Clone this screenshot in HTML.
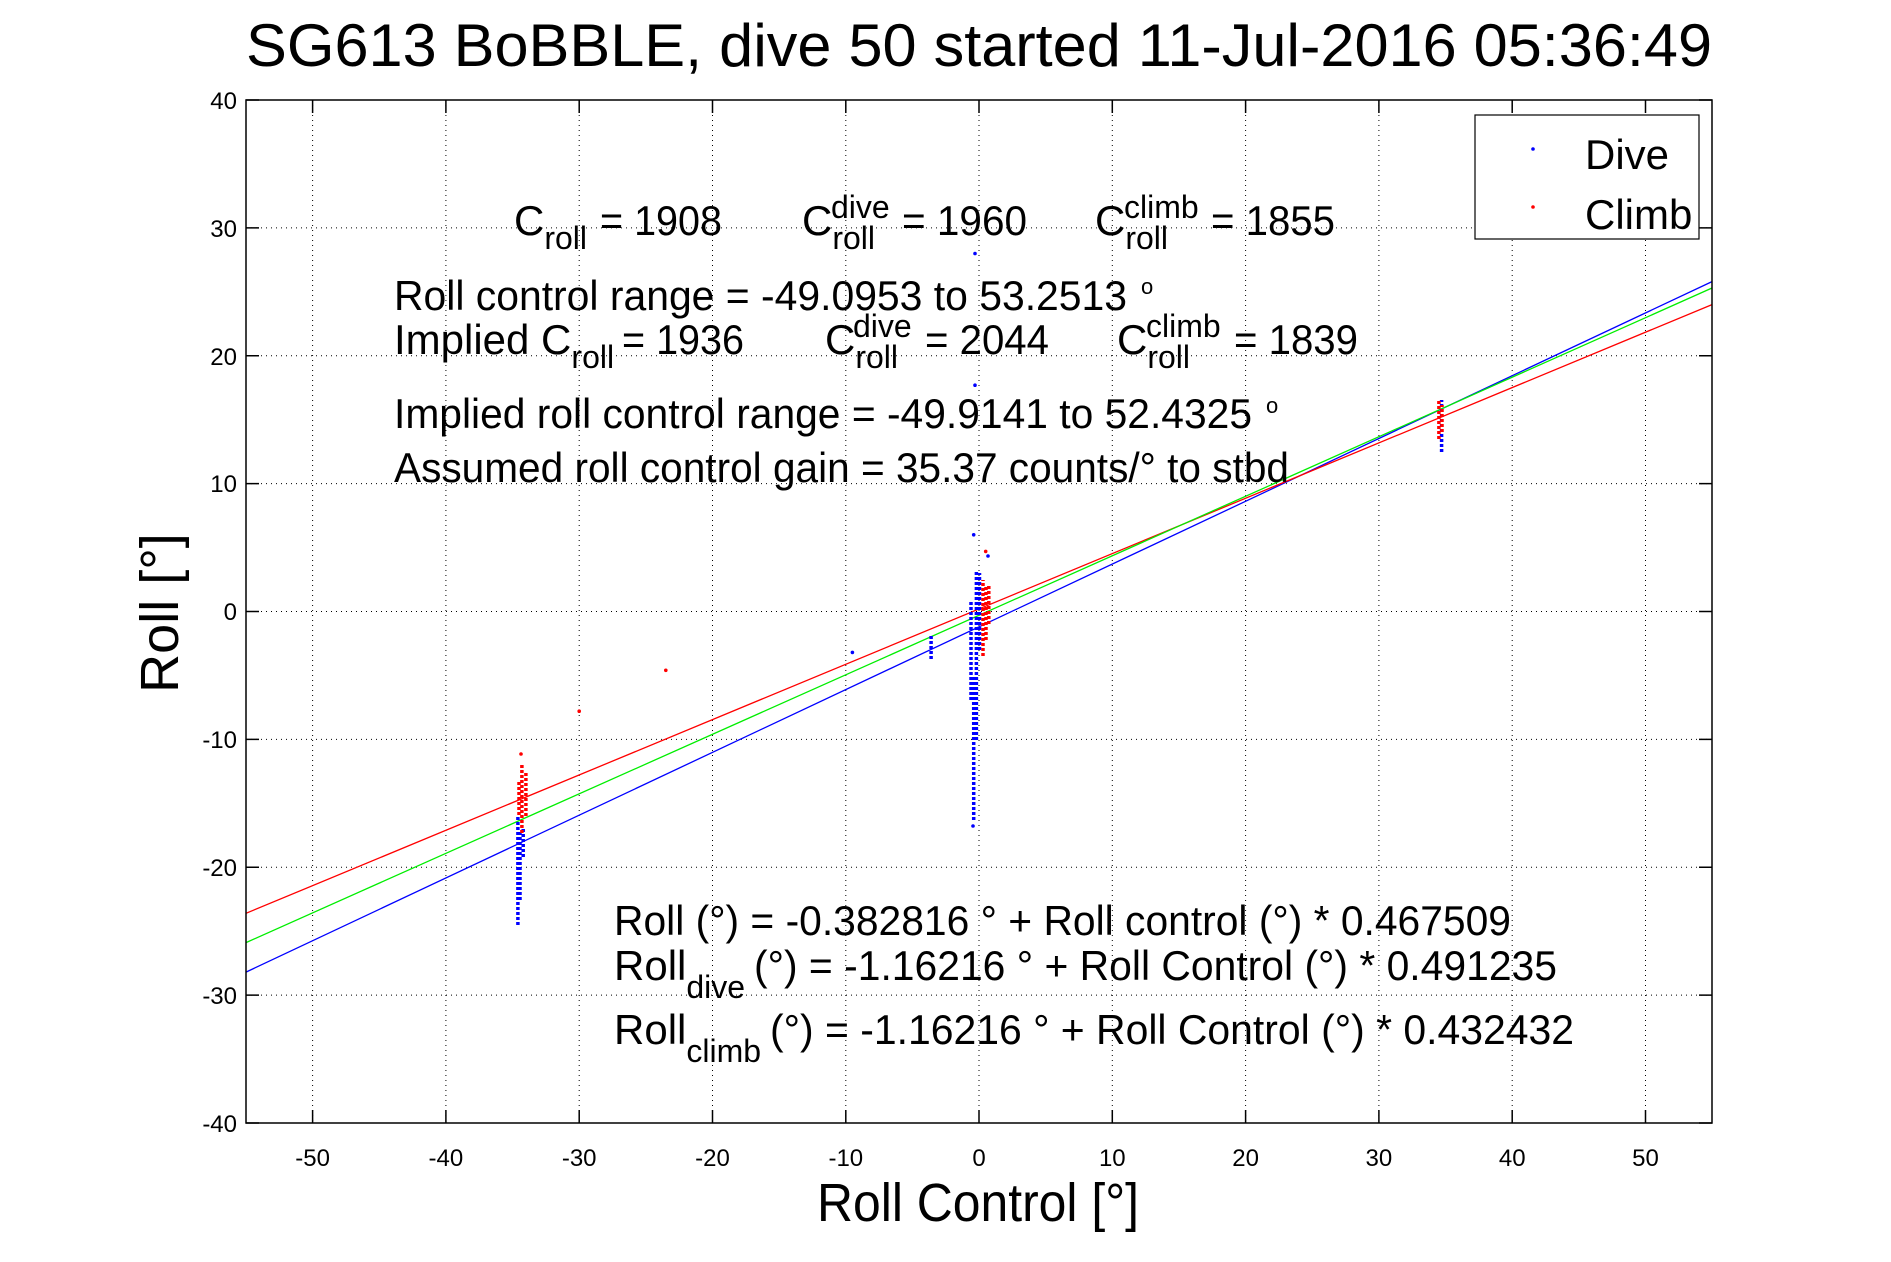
<!DOCTYPE html>
<html><head><meta charset="utf-8"><style>
html,body{margin:0;padding:0;background:#fff;}
svg{display:block;font-family:"Liberation Sans",sans-serif;}
</style></head><body>
<svg width="1891" height="1262" viewBox="0 0 1891 1262" xmlns="http://www.w3.org/2000/svg">
<rect width="1891" height="1262" fill="#fff"/>
<g stroke="#000" stroke-width="1" stroke-dasharray="1,4">
<line x1="312.6" y1="100" x2="312.6" y2="1123"/><line x1="445.9" y1="100" x2="445.9" y2="1123"/><line x1="579.2" y1="100" x2="579.2" y2="1123"/><line x1="712.5" y1="100" x2="712.5" y2="1123"/><line x1="845.8" y1="100" x2="845.8" y2="1123"/><line x1="979" y1="100" x2="979" y2="1123"/><line x1="1112.3" y1="100" x2="1112.3" y2="1123"/><line x1="1245.6" y1="100" x2="1245.6" y2="1123"/><line x1="1378.9" y1="100" x2="1378.9" y2="1123"/><line x1="1512.2" y1="100" x2="1512.2" y2="1123"/><line x1="1645.5" y1="100" x2="1645.5" y2="1123"/>
<line x1="246" y1="227.9" x2="1712" y2="227.9"/><line x1="246" y1="355.75" x2="1712" y2="355.75"/><line x1="246" y1="483.6" x2="1712" y2="483.6"/><line x1="246" y1="611.5" x2="1712" y2="611.5"/><line x1="246" y1="739.4" x2="1712" y2="739.4"/><line x1="246" y1="867.25" x2="1712" y2="867.25"/><line x1="246" y1="995.1" x2="1712" y2="995.1"/>
</g>
<g stroke="#000" stroke-width="1.5">
<path d="M312.6 1123v-13M445.9 1123v-13M579.2 1123v-13M712.5 1123v-13M845.8 1123v-13M979 1123v-13M1112.3 1123v-13M1245.6 1123v-13M1378.9 1123v-13M1512.2 1123v-13M1645.5 1123v-13"/>
<path d="M312.6 100v13M445.9 100v13M579.2 100v13M712.5 100v13M845.8 100v13M979 100v13M1112.3 100v13M1245.6 100v13M1378.9 100v13M1512.2 100v13M1645.5 100v13"/>
<path d="M246 100h13M246 227.9h13M246 355.75h13M246 483.6h13M246 611.5h13M246 739.4h13M246 867.25h13M246 995.1h13M246 1123h13"/>
<path d="M1712 100h-13M1712 227.9h-13M1712 355.75h-13M1712 483.6h-13M1712 611.5h-13M1712 739.4h-13M1712 867.25h-13M1712 995.1h-13M1712 1123h-13"/>
</g>
<g fill="none" stroke-width="1.3">
<line x1="246" y1="972.1" x2="1712" y2="281.6" stroke="#00f"/>
<line x1="246" y1="913.3" x2="1712" y2="304.6" stroke="#f00"/>
<line x1="246" y1="942.6" x2="1712" y2="288" stroke="#0e0"/>
</g>
<g stroke-width="3.5" stroke-dasharray="3,2">
<line x1="517.9" y1="925" x2="517.9" y2="816" stroke="#00f"/>
<line x1="520" y1="900" x2="520" y2="830" stroke="#00f"/>
<line x1="523.2" y1="857" x2="523.2" y2="829" stroke="#00f"/>
<line x1="521.9" y1="833" x2="521.9" y2="764" stroke="#f00"/>
<line x1="525.9" y1="816" x2="525.9" y2="772" stroke="#f00"/>
<line x1="519" y1="815" x2="519" y2="780" stroke="#f00"/>
<line x1="973.7" y1="820" x2="973.7" y2="675" stroke="#00f"/>
<line x1="976.4" y1="740" x2="976.4" y2="571" stroke="#00f"/>
<line x1="979.5" y1="650" x2="979.5" y2="573" stroke="#00f"/>
<line x1="971" y1="700" x2="971" y2="600" stroke="#00f"/>
<line x1="983" y1="656" x2="983" y2="580" stroke="#f00"/>
<line x1="986" y1="640" x2="986" y2="585" stroke="#f00"/>
<line x1="988.8" y1="624" x2="988.8" y2="586" stroke="#f00"/>
<line x1="931.1" y1="659" x2="931.1" y2="636" stroke="#00f"/>
<line x1="1441.6" y1="452" x2="1441.6" y2="400" stroke="#00f"/>
<line x1="1438.9" y1="439" x2="1438.9" y2="399" stroke="#f00"/>
<line x1="1442" y1="432" x2="1442" y2="405" stroke="#f00"/>
</g>
<g fill="#00f"><circle cx="975" cy="253.5" r="1.8"/><circle cx="975" cy="385.2" r="1.8"/><circle cx="973.7" cy="534.8" r="1.8"/><circle cx="852.4" cy="652.4" r="1.8"/><circle cx="988" cy="556" r="1.8"/><circle cx="973" cy="826" r="1.8"/></g>
<g fill="#f00"><circle cx="579.2" cy="711.2" r="1.8"/><circle cx="665.8" cy="670.3" r="1.8"/><circle cx="985.7" cy="551.4" r="1.8"/><circle cx="521" cy="754" r="1.8"/></g>
<rect x="246" y="100" width="1466" height="1023" fill="none" stroke="#000" stroke-width="1.5"/>
<g font-size="24" text-anchor="middle">
<text x="312.6" y="1166">-50</text><text x="445.9" y="1166">-40</text><text x="579.2" y="1166">-30</text><text x="712.5" y="1166">-20</text><text x="845.8" y="1166">-10</text><text x="979" y="1166">0</text><text x="1112.3" y="1166">10</text><text x="1245.6" y="1166">20</text><text x="1378.9" y="1166">30</text><text x="1512.2" y="1166">40</text><text x="1645.5" y="1166">50</text>
</g>
<g font-size="24" text-anchor="end">
<text x="237" y="109">40</text><text x="237" y="237">30</text><text x="237" y="365">20</text><text x="237" y="492">10</text><text x="237" y="620">0</text><text x="237" y="748">-10</text><text x="237" y="876">-20</text><text x="237" y="1004">-30</text><text x="237" y="1132">-40</text>
</g>
<text x="246" y="66" font-size="60" textLength="1466" lengthAdjust="spacingAndGlyphs">SG613 BoBBLE, dive 50 started 11-Jul-2016 05:36:49</text>
<text x="978" y="1221" font-size="54" text-anchor="middle" textLength="322" lengthAdjust="spacingAndGlyphs">Roll Control [°]</text>
<text transform="translate(178,613) rotate(-90)" font-size="54" text-anchor="middle">Roll [°]</text>
<g font-size="42">
<text x="514" y="235">C<tspan font-size="32" dy="14">roll</tspan></text>
<text x="600" y="235" textLength="122" lengthAdjust="spacingAndGlyphs">= 1908</text>
<text x="802" y="235">C<tspan font-size="32" dy="14">roll</tspan></text>
<text x="831" y="218" font-size="32">dive</text>
<text x="902" y="235" textLength="125" lengthAdjust="spacingAndGlyphs">= 1960</text>
<text x="1095" y="235">C<tspan font-size="32" dy="14">roll</tspan></text>
<text x="1124" y="218" font-size="32">climb</text>
<text x="1211" y="235" textLength="124" lengthAdjust="spacingAndGlyphs">= 1855</text>
<text x="394" y="310" textLength="733" lengthAdjust="spacingAndGlyphs">Roll control range = -49.0953 to 53.2513</text>
<text x="1141" y="294" font-size="22">o</text>
<text x="394" y="354">Implied C<tspan font-size="32" dy="14">roll</tspan></text>
<text x="622" y="354" textLength="122" lengthAdjust="spacingAndGlyphs">= 1936</text>
<text x="825" y="354">C<tspan font-size="32" dy="14">roll</tspan></text>
<text x="853" y="337" font-size="32">dive</text>
<text x="925" y="354" textLength="124" lengthAdjust="spacingAndGlyphs">= 2044</text>
<text x="1117" y="354">C<tspan font-size="32" dy="14">roll</tspan></text>
<text x="1146" y="337" font-size="32">climb</text>
<text x="1234" y="354" textLength="124" lengthAdjust="spacingAndGlyphs">= 1839</text>
<text x="394" y="428" textLength="858" lengthAdjust="spacingAndGlyphs">Implied roll control range = -49.9141 to 52.4325</text>
<text x="1266" y="413" font-size="22">o</text>
<text x="394" y="482" textLength="895" lengthAdjust="spacingAndGlyphs">Assumed roll control gain = 35.37 counts/° to stbd</text>
<text x="614" y="935" textLength="897" lengthAdjust="spacingAndGlyphs">Roll (°) = -0.382816 ° + Roll control (°) * 0.467509</text>
<text x="614" y="980">Roll<tspan font-size="32" dy="18">dive</tspan></text>
<text x="754" y="980" textLength="803" lengthAdjust="spacingAndGlyphs">(°) = -1.16216 ° + Roll Control (°) * 0.491235</text>
<text x="614" y="1044">Roll<tspan font-size="32" dy="18">climb</tspan></text>
<text x="770" y="1044" textLength="804" lengthAdjust="spacingAndGlyphs">(°) = -1.16216 ° + Roll Control (°) * 0.432432</text>
</g>
<rect x="1475" y="115" width="224" height="124" fill="#fff" stroke="#000" stroke-width="1.2"/>
<circle cx="1533" cy="149" r="1.8" fill="#00f"/>
<circle cx="1533" cy="207" r="1.8" fill="#f00"/>
<text x="1585" y="169" font-size="42">Dive</text>
<text x="1585" y="229" font-size="42">Climb</text>
</svg>
</body></html>
